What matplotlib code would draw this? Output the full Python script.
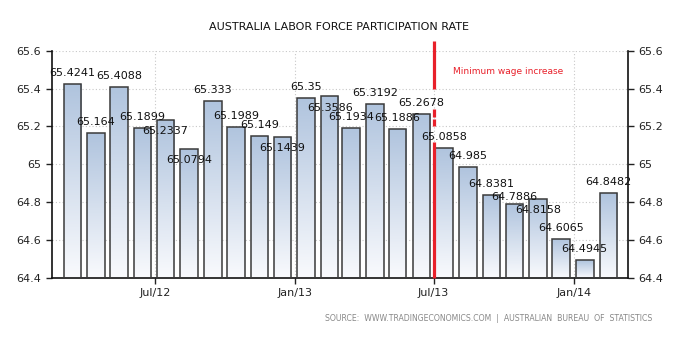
import datetime as dt
import matplotlib
matplotlib.use('Agg')
from matplotlib import pyplot as plt
import matplotlib.dates as mdates
from matplotlib.ticker import FuncFormatter, FixedLocator
import numpy as np

# monthly participation rate, Mar 2012 .. Feb 2014
months = [dt.date(2012 + (2 + i) // 12, (2 + i) % 12 + 1, 15) for i in range(24)]
rates = [65.4241, 65.164, 65.4088, 65.1899, 65.2337, 65.0794, 65.333, 65.1989,
         65.149, 65.1439, 65.35, 65.3586, 65.1934, 65.3192, 65.1886, 65.2678,
         65.0858, 64.985, 64.8381, 64.7886, 64.8158, 64.6065, 64.4945, 64.8482]
tick_dates = [dt.date(2012, 7, 1), dt.date(2013, 1, 1), dt.date(2013, 7, 1), dt.date(2014, 1, 1)]
tick_labels = ['Jul/12', 'Jan/13', 'Jul/13', 'Jan/14']
y_ticks = [64.4, 64.6, 64.8, 65.0, 65.2, 65.4, 65.6]

# label placement: +1 above bar top, -1 below it
label_side = [1, 1, 1, 1, -1, -1, 1, 1, 1, -1, 1, -1,
              1, 1, 1, 1, 1, 1, 1, 0.7, -1, 1, 1, 1]

event_date = dt.date(2013, 7, 2)
event_text = 'Minimum wage increase'

fig = plt.figure(figsize=(6.75, 3.41), dpi=100)
ax = fig.add_axes([0.0766, 0.1848, 0.8542, 0.6665])

ymin, ymax = 64.4, 65.6
xs = mdates.date2num(months)
width = 23
grad = np.linspace(0, 1, 100).reshape(-1, 1)
cmap = matplotlib.colors.LinearSegmentedColormap.from_list('g', ['#f9fafd', '#b0c4de'])

for x, v in zip(xs, rates):
    rect = plt.Rectangle((x - width / 2, ymin), width, v - ymin,
                         facecolor='none', edgecolor='#3a3a3a', linewidth=1.1, zorder=3)
    ax.add_patch(rect)
    im = ax.imshow(grad, cmap=cmap, aspect='auto', origin='lower',
                   extent=(x - width / 2, x + width / 2, ymin, v), zorder=2)
    im.set_clip_path(rect)

for x, v, s in zip(xs, rates, label_side):
    ax.annotate('%g' % v, xy=(x, v), xytext=(0, 8 * s), textcoords='offset points',
                ha='center', va='center', fontsize=8, color='#111111', zorder=5)

# red marker line, drawn in pieces like the original
ex = mdates.date2num(event_date)
for y0, y1 in [(65.65, 65.40), (65.29, 65.25), (65.24, 65.20), (65.12, 64.4)]:
    ax.plot([ex, ex], [y0, y1], color='#e8202a', linewidth=2.3, zorder=6,
            clip_on=False, solid_capstyle='butt')
ax.text(mdates.date2num(dt.date(2013, 7, 27)), 65.49, event_text, color='#e8202a',
        fontsize=6.5, va='center', ha='left')

ax.set_xlim(mdates.date2num(dt.date(2012, 2, 17)), mdates.date2num(dt.date(2014, 3, 13)))
ax.set_ylim(ymin, ymax)
ax.xaxis.set_major_locator(FixedLocator(mdates.date2num(tick_dates)))
ax.set_xticklabels(tick_labels)
ax.set_yticks(y_ticks)
ax.yaxis.set_major_formatter(FuncFormatter(lambda v, p: '%g' % round(v, 1)))
ax.tick_params(axis='both', labelsize=8, colors='#222222', length=4, width=1, direction='out')
ax.tick_params(axis='y', which='both', left=True, right=True, labelleft=True, labelright=True)
ax.grid(True, linestyle=(0, (1, 2)), color='#c8c8c8', linewidth=0.8, zorder=0)
ax.set_axisbelow(True)
for side in ['left', 'bottom', 'right']:
    ax.spines[side].set_color('#111111')
    ax.spines[side].set_linewidth(1.2)
ax.spines['top'].set_visible(False)

fig.text(0.502, 0.92, 'AUSTRALIA LABOR FORCE PARTICIPATION RATE', ha='center', va='center',
         fontsize=8, color='#111111')
fig.text(0.966, 0.065, 'SOURCE:  WWW.TRADINGECONOMICS.COM  |  AUSTRALIAN  BUREAU  OF  STATISTICS',
         ha='right', va='center', fontsize=5.6, color='#888888')

fig.savefig('out.png', dpi=100)
